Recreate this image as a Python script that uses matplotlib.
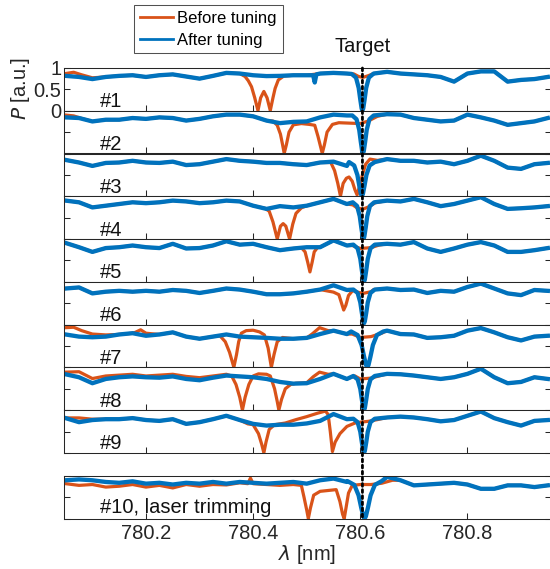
import numpy as np
import matplotlib
matplotlib.use("Agg")
from matplotlib import pyplot as plt
from matplotlib.patches import ConnectionPatch

plt.rcParams['font.family'] = ['Liberation Sans', 'DejaVu Sans']

# wavelength grid of the background traces (nm)
wl = np.round(np.arange(780.05, 780.951, 0.025), 3)

# background transmission, one list per device (#1 .. #10), read at wl
base = [
    [.815, .79, .74, .79, .815, .83, .79, .83, .85, .80, .75, .815, .885, .87, .83, .81, .815, .83, .83,
     .87, .885, .87, .87, .87, .91, .87, .85, .83, .79, .68, .87, .92, .92, .68, .72, .74, .79],
    [.845, .83, .75, .79, .79, .83, .81, .845, .83, .77, .81, .87, .91, .91, .87, .77, .71, .74, .75,
     .845, .91, .89, .89, .87, .92, .91, .83, .79, .75, .77, .91, .845, .77, .67, .71, .75, .83],
    [.85, .79, .71, .78, .79, .83, .79, .78, .81, .73, .75, .81, .87, .83, .81, .78, .78, .75, .73,
     .79, .81, .71, .8, .83, .87, .83, .83, .79, .81, .75, .83, .95, .83, .67, .64, .75, .78],
    [.9, .86, .74, .78, .82, .86, .84, .86, .9, .88, .84, .86, .9, .88, .78, .705, .77, .74, .78,
     .86, .94, .82, .86, .86, .9, .88, .94, .86, .77, .82, .9, .98, .82, .705, .72, .74, .77],
    [.91, .81, .7, .79, .81, .85, .81, .79, .89, .78, .79, .85, .95, .87, .89, .81, .74, .78, .81,
     .81, .97, .85, .85, .85, .89, .87, .93, .78, .7, .78, .87, .93, .85, .7, .7, .74, .79],
    [.845, .87, .73, .77, .79, .77, .79, .77, .81, .79, .74, .79, .845, .82, .77, .71, .71, .73, .77,
     .82, .92, .81, .82, .82, .845, .81, .82, .74, .79, .77, .88, .96, .845, .73, .69, .81, .79],
    [.77, .72, .705, .72, .77, .8, .74, .77, .82, .72, .67, .72, .77, .72, .705, .69, .67, .67, .69,
     .78, .86, .78, .8, .82, .86, .78, .77, .69, .705, .74, .86, .92, .82, .705, .63, .72, .74],
    [.84, .77, .63, .73, .77, .79, .77, .76, .79, .73, .7, .76, .81, .79, .77, .73, .66, .62, .63,
     .73, .85, .73, .75, .77, .85, .84, .81, .77, .73, .77, .85, .97, .77, .63, .66, .77, .73],
    [.815, .72, .77, .79, .79, .815, .77, .75, .79, .68, .72, .79, .87, .77, .68, .64, .66, .66, .69,
     .75, .91, .79, .77, .75, .83, .85, .83, .79, .74, .77, .87, .97, .815, .72, .64, .75, .77],
    [.9, .92, .9, .86, .84, .875, .82, .84, .8, .84, .82, .86, .82, .86, .84, .82, .84, .86, .82,
     .9, .94, .86, .88, .9, .98, .9, .78, .8, .82, .84, .8, .7, .7, .78, .78, .74, .78],
]

# after tuning: resonance pulled onto the target line
dip_dx = [-0.02, -0.012, -0.007, -0.004, -0.0015, 0, 0.0015, 0.004, 0.007, 0.012, 0.02]
dip_frac = [1, .9, .62, .3, .06, 0, .06, .3, .62, .9, 1]
blue_centre = [780.604, 780.605, 780.603, 780.606, 780.607, 780.607, 780.613, 780.607, 780.607, 780.608]
blue_width = [1, 1, 1.2, 1, 1, 1, 1.5, 1, 1, 1.6]
blue_level = [.86, .89, .8, .86, .87, .82, .84, .8, .8, .88]
blue_floor = [0, 0, 0, 0, 0, .03, 0, 0, 0, 0]
blue_extra = {0: [(780.512, .83), (780.515, .66), (780.518, .85)]}

# before tuning: resonances (lambda, P) that replace the background
red_segs = [
    [[(780.05, .87), (780.065, .9), (780.08, .84), (780.1, .77)],
     [(780.385, .8), (780.391, .7), (780.397, .56), (780.403, .3), (780.409, 0), (780.414, .3),
      (780.42, .45), (780.426, .3), (780.432, 0), (780.437, .3), (780.441, .52), (780.447, .72), (780.457, .81)],
     [(780.588, .86), (780.597, .8), (780.605, .78), (780.615, .82), (780.625, .87)]],
    [[(780.05, .9), (780.065, .88), (780.08, .82)],
     [(780.437, .76), (780.445, .66), (780.451, .45), (780.455, .2), (780.458, 0), (780.462, .2),
      (780.467, .5), (780.475, .67), (780.49, .7), (780.505, .68), (780.515, .66), (780.521, .4),
      (780.526, .15), (780.529, 0), (780.533, .2), (780.538, .5), (780.548, .68), (780.56, .72),
      (780.58, .71), (780.6, .7), (780.615, .76), (780.632, .87)]],
    [[(780.545, .79), (780.552, .6), (780.558, .3), (780.563, 0), (780.568, .3), (780.574, .42),
      (780.579, .45), (780.585, .35), (780.59, .15), (780.594, .03), (780.598, .2), (780.604, .5),
      (780.61, .75), (780.618, .87), (780.632, .84)]],
    [[(780.422, .72), (780.43, .65), (780.437, .4), (780.445, 0), (780.451, .3), (780.456, .36),
      (780.461, .3), (780.468, 0), (780.474, .35), (780.48, .6), (780.49, .73)],
     [(780.586, .8), (780.595, .72), (780.605, .7), (780.615, .75), (780.628, .85)]],
    [[(780.49, .8), (780.497, .7), (780.502, .45), (780.506, .23), (780.51, .45), (780.514, .7), (780.52, .8)],
     [(780.585, .85), (780.6, .78), (780.62, .8), (780.635, .86)]],
    [[(780.55, .76), (780.56, .7), (780.565, .5), (780.569, .34), (780.573, .45), (780.578, .68), (780.586, .8)],
     [(780.595, .76), (780.605, .73), (780.62, .77)]],
    [[(780.05, .93), (780.065, .94), (780.08, .86), (780.1, .78), (780.125, .76)],
     [(780.18, .82), (780.19, .88), (780.2, .8)],
     [(780.338, .74), (780.348, .6), (780.356, .35), (780.364, 0), (780.369, .3), (780.373, .6),
      (780.378, .8), (780.387, .86), (780.4, .87), (780.412, .83), (780.421, .76), (780.428, .45),
      (780.434, 0), (780.439, .3), (780.445, .6), (780.455, .7)],
     [(780.51, .78), (780.524, .93), (780.54, .86)],
     [(780.585, .78), (780.6, .7), (780.62, .72), (780.64, .8)]],
    [[(780.05, .89), (780.075, .9), (780.1, .74), (780.125, .8), (780.15, .82), (780.175, .84),
      (780.2, .8), (780.225, .82), (780.25, .84), (780.275, .79), (780.3, .76), (780.325, .8),
      (780.35, .84), (780.36, .8), (780.368, .6), (780.375, .3), (780.38, 0), (780.385, .3),
      (780.392, .6), (780.4, .8), (780.41, .85), (780.425, .84), (780.432, .8), (780.44, .5),
      (780.445, .2), (780.448, 0), (780.453, .25), (780.46, .5), (780.47, .6), (780.48, .63),
      (780.5, .64)],
     [(780.512, .78), (780.524, .89), (780.54, .84)],
     [(780.59, .8), (780.6, .73), (780.62, .75), (780.635, .8)]],
    [[(780.05, .82), (780.075, .82), (780.1, .79)],
     [(780.39, .68), (780.4, .66), (780.41, .45), (780.416, .2), (780.42, 0), (780.424, .25),
      (780.43, .55), (780.44, .66), (780.46, .7), (780.48, .78), (780.5, .85), (780.52, .93),
      (780.535, .98), (780.54, .9), (780.544, .5), (780.548, .03), (780.553, .25), (780.562, .45),
      (780.575, .62), (780.59, .7), (780.6, .72), (780.615, .74), (780.632, .78)]],
    [[(780.05, .82), (780.075, .78), (780.1, .8), (780.125, .74), (780.15, .76), (780.175, .8),
      (780.2, .74), (780.225, .78), (780.25, .72), (780.275, .8), (780.3, .76), (780.325, .8),
      (780.35, .79), (780.375, .84), (780.39, .82), (780.395, .95), (780.4, .82), (780.425, .8),
      (780.45, .78), (780.475, .8), (780.49, .78), (780.495, .5), (780.5, .2), (780.503, 0),
      (780.507, .25), (780.513, .55), (780.525, .64), (780.54, .66), (780.555, .68), (780.562, .4),
      (780.567, .1), (780.57, 0), (780.574, .3), (780.578, .6), (780.585, .78), (780.6, .8),
      (780.62, .8), (780.64, .83), (780.66, .9)]],
]

labels = ['#1', '#2', '#3', '#4', '#5', '#6', '#7', '#8', '#9', '#10, laser trimming']
target = 780.604
red_c = '#D95319'
blue_c = '#0072BD'


def combine(b, segs):
    b = np.asarray(b, float)
    keep = np.ones(len(wl), bool)
    for s in segs:
        sx = [p[0] for p in s]
        keep &= ~((wl >= min(sx) - 1e-9) & (wl <= max(sx) + 1e-9))
    xs = list(wl[keep])
    ys = list(b[keep])
    for s in segs:
        xs += [p[0] for p in s]
        ys += [p[1] for p in s]
    order = np.argsort(xs)
    return np.array(xs)[order], np.array(ys)[order]


fig = plt.figure(figsize=(5.5, 5.69), dpi=100)
W, H = 550, 569
tops = [68 + i * 42.78 for i in range(9)] + [476]
axes = []
for i in range(10):
    top = tops[i]
    ax = fig.add_axes([64 / W, 1 - (top + 42.6) / H, 486.5 / W, 42.6 / H])
    axes.append(ax)

    bsegs = [[(blue_centre[i] + d * blue_width[i], blue_floor[i] + f * (blue_level[i] - blue_floor[i]))
              for d, f in zip(dip_dx, dip_frac)]]
    if i in blue_extra:
        bsegs.append(blue_extra[i])
    rx, ry = combine(base[i], red_segs[i])
    bx, by = combine(base[i], bsegs)
    lr, = ax.plot(rx, ry, color=red_c, lw=2.3, solid_joinstyle='round')
    lb, = ax.plot(bx, by, color=blue_c, lw=3.1, solid_joinstyle='round')

    ax.set_xlim(780.047, 780.955)
    ax.set_ylim(0, 1)
    ax.set_xticks([780.2, 780.4, 780.6, 780.8])
    ax.set_yticks([0, 0.5, 1])
    ax.tick_params(direction='in', length=4, width=0.75, colors='#262626', labelsize=14.5,
                   top=False, right=True, labelcolor='#262626')
    for sp in ax.spines.values():
        sp.set_color('#262626')
        sp.set_linewidth(0.75)
    if i == 0:
        ax.set_yticklabels(['0', '0.5', '1'])
        ax.tick_params(axis='y', pad=2)
    else:
        ax.set_yticklabels([])
    if i == 9:
        ax.set_xticklabels(['780.2', '780.4', '780.6', '780.8'])
        ax.tick_params(axis='x', pad=4)
        ax.set_xlabel(r'$\lambda$ [nm]', fontsize=14.5, color='#262626', labelpad=0)
    else:
        ax.set_xticklabels([])
    ax.text(0.074, 0.13 if i == 9 else 0.08, labels[i], transform=ax.transAxes,
            fontsize=14.5, color='#111111', va='baseline', ha='left')

# dotted target line through all panels
con = ConnectionPatch(xyA=(target, 1), coordsA=axes[0].transData,
                      xyB=(target, 0), coordsB=axes[9].transData,
                      color='black', lw=2.0, linestyle=(0, (1, 1.2)))
fig.add_artist(con)

fig.text(363 / W, 1 - 47 / H, 'Target', ha='center', va='center', fontsize=14.5, color='#111111')
fig.text(20 / W, 1 - 88 / H, r'$P$ [a.u.]', rotation=90, ha='center', va='center',
         fontsize=14.5, color='#262626')

leg = fig.legend([lr, lb], ['Before tuning', 'After tuning'], loc='upper left',
                 bbox_to_anchor=(134 / W, 1 - 5 / H), fontsize=12, frameon=True, fancybox=False,
                 edgecolor='#262626', handlelength=2.0, borderpad=0.35, labelspacing=0.4,
                 handletextpad=0.25, borderaxespad=0)
leg.get_frame().set_linewidth(0.75)
for h in leg.get_lines():
    h.set_linewidth(2.0)

fig.savefig('out.png', dpi=100)
